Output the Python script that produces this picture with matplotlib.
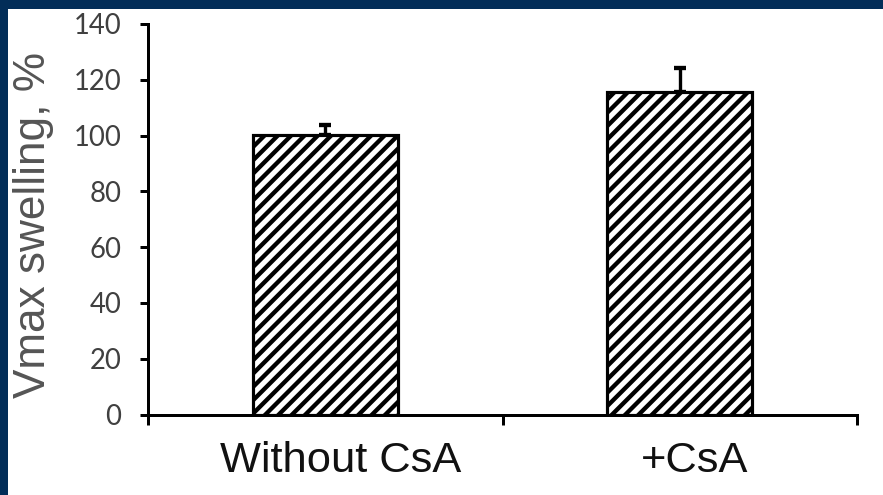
import matplotlib
matplotlib.use("Agg")
import matplotlib.pyplot as plt
import matplotlib.transforms as mtransforms
from matplotlib.patches import Rectangle

# Data
categories = ["Without CsA", "+CsA"]
vmax_values = [100.2, 115.6]
vmax_errors = [3.6, 8.8]
y_ticks = [0, 20, 40, 60, 80, 100, 120, 140]

DPI = 120
W, H = 883, 495
plt.rcParams["hatch.linewidth"] = 2.6
plt.rcParams["hatch.color"] = "black"

fig = plt.figure(figsize=(W / DPI, H / DPI), dpi=DPI)
fig.patch.set_facecolor("white")

# Navy frame along the top and left edges
frame_color = "#022d58"
fig.patches.append(Rectangle((0, 1 - 9 / H), 1, 9 / H, transform=fig.transFigure,
                             facecolor=frame_color, edgecolor="none", zorder=0))
fig.patches.append(Rectangle((0, 0), 8 / W, 1, transform=fig.transFigure,
                             facecolor=frame_color, edgecolor="none", zorder=0))

left, right = 148 / W, 857 / W
bottom, top = 1 - 414.5 / H, 1 - 24 / H
ax = fig.add_axes([left, bottom, right - left, top - bottom])

x = list(range(len(categories)))
ax.bar(x, vmax_values, width=0.41, facecolor="white", edgecolor="black",
       linewidth=1.9, hatch="///", zorder=2)
ax.errorbar(x, vmax_values, yerr=[[0] * len(vmax_errors), vmax_errors],
            fmt="none", ecolor="black", elinewidth=2.0, capsize=3.4,
            capthick=2.6, zorder=1)

ax.set_xlim(-0.5, len(categories) - 0.5)
ax.set_ylim(0, 140)
ax.set_yticks(y_ticks)
ax.set_yticklabels([str(v) for v in y_ticks], family="Lato", fontsize=16.5,
                   color="#404040")

ax.set_xticks(x)
ax.set_xticklabels(categories, family="Liberation Sans", fontsize=26,
                   color="#111111")
ax.set_xticks([i - 0.5 for i in range(len(categories) + 1)], minor=True)
ax.tick_params(axis="x", which="major", length=0, pad=16)
ax.tick_params(axis="x", which="minor", length=6, width=1.8, direction="out")
ax.tick_params(axis="y", length=5, width=1.8, direction="out", pad=11)

shift = mtransforms.ScaledTranslation(15 / DPI, 0, fig.dpi_scale_trans)
for lbl in ax.get_xticklabels():
    lbl.set_transform(lbl.get_transform() + shift)

for side in ("top", "right"):
    ax.spines[side].set_visible(False)
for side in ("left", "bottom"):
    ax.spines[side].set_linewidth(1.8)
    ax.spines[side].set_color("black")

fig.text(34 / W, 1 - 225 / H, "Vmax swelling, %", rotation=90, ha="center",
         va="center", family="Liberation Sans", fontsize=26.5, color="#555555")

fig.savefig("out.png", dpi=DPI, facecolor="white")
